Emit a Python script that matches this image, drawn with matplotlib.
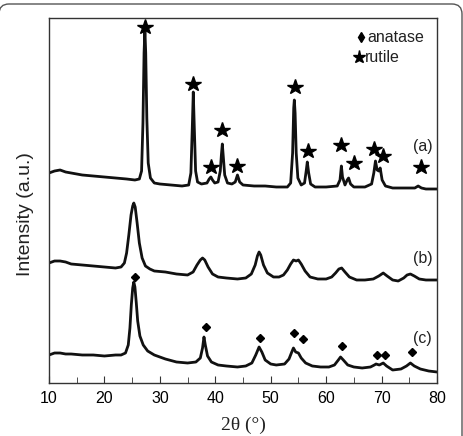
import numpy as np
import matplotlib
matplotlib.use('Agg')
import matplotlib.pyplot as plt
from matplotlib.patches import FancyBboxPatch
from matplotlib.transforms import IdentityTransform

# (a) rutile sample
tth_a = [10.0, 11.0, 12.0, 13.0, 14.0, 16.0, 18.0, 20.0, 22.0, 24.0, 25.5, 26.3, 26.7, 26.95, 27.15, 27.3,
         27.45, 27.65, 27.9, 28.3, 29.0, 30.0, 32.0, 34.0, 35.2, 35.6, 35.85, 36.03, 36.2, 36.45, 36.8,
         37.5, 38.5, 38.9, 39.2, 39.5, 39.9, 40.5, 40.9, 41.1, 41.27, 41.45, 41.7, 42.2, 43.0, 43.6, 44.0,
         44.4, 45.0, 47.0, 49.0, 51.0, 53.0, 53.6, 53.95, 54.15, 54.26, 54.4, 54.6, 54.9, 55.5, 56.1, 56.4,
         56.6, 56.85, 57.2, 58.0, 60.0, 62.0, 62.5, 62.75, 62.95, 63.4, 63.8, 64.05, 64.4, 65.0, 67.0,
         68.2, 68.6, 68.9, 69.2, 69.5, 69.75, 70.1, 70.7, 72.0, 74.0, 76.0, 76.6, 77.2, 78.0, 80.0]
int_a = [210, 212, 213, 211, 210, 208, 207, 206, 205, 204, 203, 204, 212, 260, 330, 353,
         330, 265, 220, 205, 200, 199, 198, 197, 198, 210, 255, 291, 258, 212, 201,
         199, 200, 204, 206, 203, 200, 201, 212, 228, 239, 226, 208, 200, 199, 201, 208,
         201, 198, 197, 197, 196, 196, 200, 230, 275, 283, 270, 230, 205, 198, 200, 212,
         221, 210, 199, 196, 196, 197, 203, 217, 206, 198, 203, 205, 199, 196, 196,
         199, 210, 222, 213, 212, 215, 203, 197, 195, 195, 195, 197, 195, 194, 194]

# (b)
tth_b = [10.0, 11.0, 12.0, 13.0, 14.0, 16.0, 18.0, 20.0, 22.0, 23.0, 23.6, 24.0, 24.4, 24.8, 25.1, 25.3,
         25.55, 25.9, 26.3, 26.8, 27.4, 28.2, 29.0, 31.0, 33.0, 35.0, 36.0, 36.7, 37.3, 37.7, 38.1, 38.7,
         39.5, 40.5, 42.0, 44.0, 45.5, 46.5, 47.2, 47.6, 47.9, 48.2, 48.7, 49.4, 50.5, 51.5, 52.3, 53.0,
         53.6, 54.1, 54.6, 55.0, 55.5, 56.2, 57.1, 58.5, 60.0, 61.0, 61.7, 62.3, 62.8, 63.4, 64.2, 65.5,
         67.0, 68.5, 69.5, 70.3, 71.0, 72.0, 73.0, 74.0, 74.6, 75.2, 75.9, 76.8, 78.0, 80.0]
int_b = [120, 122, 122, 121, 119, 118, 117, 116, 115, 116, 120, 130, 148, 168, 177, 180,
         176, 160, 140, 125, 117, 114, 112, 111, 109, 108, 111, 118, 123, 125, 123, 116,
         109, 106, 105, 104, 105, 109, 118, 127, 131, 128, 118, 110, 106, 106, 108, 113,
         119, 123, 122, 123, 119, 112, 106, 104, 104, 106, 110, 114, 115, 111, 106, 103,
         103, 104, 107, 110, 107, 103, 102, 105, 108, 109, 107, 104, 103, 103]

# (c) anatase sample
tth_c = [10.0, 11.0, 12.0, 13.0, 14.0, 16.0, 18.0, 20.0, 22.0, 23.0, 23.8, 24.3, 24.6, 24.85, 25.1, 25.3,
         25.5, 25.75, 26.0, 26.4, 27.0, 27.8, 29.0, 31.0, 33.0, 35.0, 36.5, 37.3, 37.7, 37.96, 38.2, 38.6,
         39.3, 40.5, 42.0, 44.0, 45.5, 46.6, 47.3, 47.9, 48.4, 49.0, 50.0, 51.0, 52.5, 53.3, 53.8, 54.1,
         54.5, 55.0, 55.5, 56.3, 57.5, 59.0, 60.5, 61.5, 62.2, 62.6, 63.1, 63.9, 65.0, 66.5, 68.0, 68.7,
         69.0, 69.6, 70.3, 70.9, 72.0, 73.5, 74.5, 75.2, 75.9, 77.0, 78.5, 80.0]
int_c = [28, 30, 30, 29, 29, 28, 28, 27, 28, 28, 30, 38, 55, 78, 95, 101,
         96, 80, 62, 47, 38, 32, 28, 24, 21, 20, 21, 25, 35, 46, 38, 27,
         21, 18, 17, 16, 17, 20, 28, 36, 31, 23, 19, 18, 19, 24, 31, 35,
         31, 30, 25, 20, 17, 16, 16, 18, 23, 26, 23, 18, 16, 15, 16, 18,
         19, 18, 20, 17, 13, 14, 17, 20, 17, 14, 12, 11]

# peak markers
rutile_tth = [27.3, 36.0, 39.2, 41.3, 44.0, 54.3, 56.8, 62.6, 65.0, 68.6, 70.3, 77.2]
rutile_int = [356, 299, 216, 253, 217, 296, 232, 238, 220, 234, 227, 216]
anatase_tth = [25.5, 38.4, 48.1, 54.2, 55.8, 62.9, 69.1, 70.6, 75.4]
anatase_int = [106, 56, 45, 50, 44, 37, 28, 28, 31]

labels = ['(a)', '(b)', '(c)']
label_int = [236, 124, 45]

plt.rcParams['font.family'] = ['Liberation Sans', 'DejaVu Sans']

fig = plt.figure(figsize=(4.63, 4.36), dpi=100)
ax = fig.add_axes([49 / 463, 53 / 436, 388 / 463, 365 / 436])

for x, y in [(tth_a, int_a), (tth_b, int_b), (tth_c, int_c)]:
    ax.plot(x, y, color='#111111', lw=2.0, solid_joinstyle='round')

ax.plot(rutile_tth, rutile_int, ls='none', marker='*', ms=11.5, color='black')
ax.plot(anatase_tth, anatase_int, ls='none', marker='D', ms=4.2, color='black')

for lab, y in zip(labels, label_int):
    ax.text(77.4, y, lab, ha='center', va='center', fontsize=11.5, color='#222222')

# legend drawn by hand
ax.plot([66.3], [346], ls='none', marker='d', ms=5.5, color='black')
ax.text(67.5, 346, 'anatase', ha='left', va='center', fontsize=11.5, color='#222222')
ax.plot([65.9], [326], ls='none', marker='*', ms=9.5, color='black')
ax.text(67.0, 326, 'rutile', ha='left', va='center', fontsize=11.5, color='#222222')

ax.set_xlim(10, 80)
ax.set_ylim(0, 365)
ax.set_xticks(np.arange(10, 81, 10))
ax.set_xticks(np.arange(15, 80, 10), minor=True)
ax.set_yticks([])
ax.tick_params(axis='x', which='both', direction='in', top=False, labelsize=11.5, pad=6, color='#333333')
ax.tick_params(axis='x', which='major', length=5)
ax.tick_params(axis='x', which='minor', length=4)
for s in ax.spines.values():
    s.set_color('#333333')
    s.set_linewidth(1.0)

fig.text(25 / 463, 1 - 214 / 436, 'Intensity (a.u.)', rotation=90, ha='center', va='center',
         fontsize=14, color='#222222')
fig.text(243 / 463, 1 - 425 / 436, '2θ (°)', ha='center', va='center', fontsize=14,
         family=['Liberation Serif', 'DejaVu Serif'], color='#222222')

# rounded frame around the image
frame = FancyBboxPatch((-1, -60), 463, 432 + 60, boxstyle='round,pad=0,rounding_size=10',
                       transform=IdentityTransform(), fill=False, edgecolor='#555555', lw=1.0)
fig.add_artist(frame)

fig.savefig('out.png', dpi=100)
